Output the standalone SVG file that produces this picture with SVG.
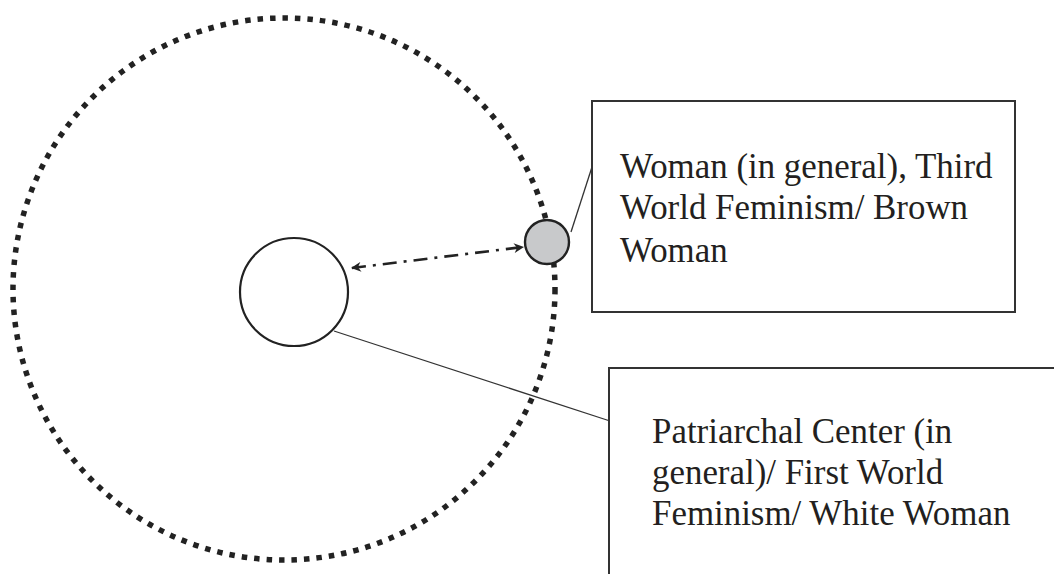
<svg xmlns="http://www.w3.org/2000/svg" width="1054" height="574" viewBox="0 0 1054 574">
<style>
.lbl{font-family:"Liberation Serif","Times New Roman",serif;font-size:34.9px;fill:#231f20}
.box{fill:#fff;stroke:#333;stroke-width:2}
.thin{stroke:#333;stroke-width:1.3;fill:none}
</style>
<defs>
<marker id="ah" viewBox="0 0 10 10" refX="9" refY="5" markerWidth="11" markerHeight="10" markerUnits="userSpaceOnUse" orient="auto-start-reverse">
<path d="M0,0 L10,5 L0,10 L3,5 Z" fill="#222"/>
</marker>
</defs>
<rect width="1054" height="574" fill="#fff"/>
<g id="orbit">
<circle cx="284" cy="289" r="271" fill="none" stroke="#222" stroke-width="5.5" stroke-dasharray="5.5 7"/>
</g>
<g id="connectors">
<line class="thin" x1="571" y1="232" x2="592" y2="167"/>
<line class="thin" x1="334" y1="331" x2="610" y2="421"/>
<line x1="352" y1="268" x2="523" y2="247" stroke="#222" stroke-width="2.6" stroke-dasharray="14 7 3 7" marker-start="url(#ah)" marker-end="url(#ah)"/>
</g>
<g id="center">
<circle cx="294" cy="292" r="54" fill="#fff" stroke="#222" stroke-width="2.2"/>
</g>
<g id="margin">
<circle cx="547" cy="242" r="22" fill="#c8c9cb" stroke="#222" stroke-width="2.4"/>
</g>
<g id="box-woman">
<rect class="box" x="592" y="101" width="423" height="211"/>
<text class="lbl" x="620" y="178">Woman (in general), Third</text>
<text class="lbl" x="620" y="219">World Feminism/ Brown</text>
<text class="lbl" x="620" y="262">Woman</text>
</g>
<g id="box-center">
<rect class="box" x="609" y="368" width="460" height="220"/>
<text class="lbl" x="652" y="443">Patriarchal Center (in</text>
<text class="lbl" x="652" y="484">general)/ First World</text>
<text class="lbl" x="652" y="525">Feminism/ White Woman</text>
</g>
</svg>
